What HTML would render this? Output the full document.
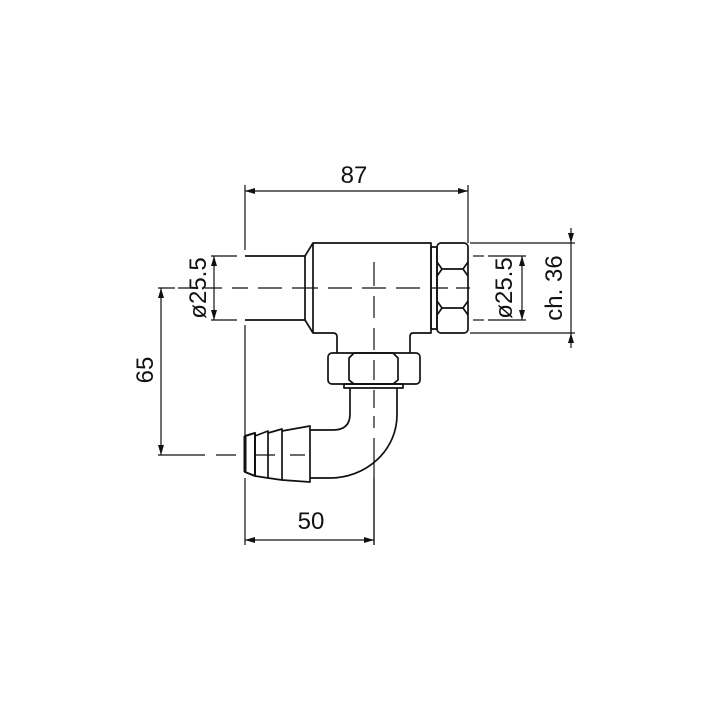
<!DOCTYPE html>
<html><head><meta charset="utf-8"><style>html,body{margin:0;padding:0;background:#fff}svg{display:block}</style></head>
<body>
<svg width="704" height="704" viewBox="0 0 704 704" xmlns="http://www.w3.org/2000/svg" font-family="Liberation Sans, sans-serif" fill="none" stroke="#111">
<defs>
<marker id="a" viewBox="0 0 10 6" refX="10" refY="3" markerWidth="10" markerHeight="6" markerUnits="userSpaceOnUse" orient="auto-start-reverse"><path d="M0,0 L10,3 L0,6 z" fill="#111" stroke="none"/></marker>
</defs>
<g stroke-width="1.2">
<line x1="245" y1="191" x2="468" y2="191" marker-start="url(#a)" marker-end="url(#a)"/>
<line x1="245" y1="185" x2="245" y2="250"/>
<line x1="468" y1="185" x2="468" y2="243"/>
<line x1="245" y1="325" x2="245" y2="445"/>
<line x1="245" y1="478" x2="245" y2="545"/>
<line x1="245" y1="540" x2="374" y2="540" marker-start="url(#a)" marker-end="url(#a)"/>
<line x1="374" y1="478" x2="374" y2="545"/>
<line x1="214" y1="256" x2="214" y2="320" marker-start="url(#a)" marker-end="url(#a)"/>
<line x1="211" y1="256" x2="237" y2="256"/>
<line x1="211" y1="320" x2="237" y2="320"/>
<line x1="161" y1="288" x2="161" y2="455" marker-start="url(#a)" marker-end="url(#a)"/>
<line x1="158" y1="288" x2="175" y2="288"/>
<line x1="158" y1="455" x2="205" y2="455"/>
<line x1="216" y1="455" x2="236" y2="455"/>
<line x1="522" y1="256" x2="522" y2="320" marker-start="url(#a)" marker-end="url(#a)"/>
<line x1="473" y1="256" x2="484" y2="256"/><line x1="488" y1="256" x2="526" y2="256"/>
<line x1="473" y1="320" x2="484" y2="320"/><line x1="488" y1="320" x2="526" y2="320"/>
<line x1="571" y1="228" x2="571" y2="243" marker-end="url(#a)"/>
<line x1="571" y1="243" x2="571" y2="333"/>
<line x1="571" y1="348" x2="571" y2="333" marker-end="url(#a)"/>
<line x1="470" y1="243" x2="575" y2="243"/>
<line x1="470" y1="333" x2="575" y2="333"/>
<path d="M178 288H194 M205 288H222 M232 288H248 M258 288H282 M292 288H318 M328 288H352 M362 288H386 M396 288H420 M430 288H448 M456 288H470"/>
<path d="M374 262V286 M374 296V318 M374 328V350 M374 360V380 M374 390V408 M374 416V428 M374 438V545"/>
<path d="M255 455H275 M290 455H305"/>
</g>
<g stroke-width="1.7" stroke-linejoin="round">
<path d="M245 256H305V320H245"/>
<path d="M305 256L313 243H431V333H413Q410 333 410 337V353 M337 353V337Q337 333 333 333H313L305 320"/>
<line x1="313" y1="243" x2="313" y2="333"/>
<rect x="431" y="247" width="6" height="82"/>
<rect x="437" y="243" width="31" height="90" rx="4"/>
<path d="M437 262L442 269H463L468 262 M437 276L442 269 M468 276L463 269 M437 315L442 308H463L468 315 M437 301L442 308 M468 301L463 308"/>
<rect x="328" y="353" width="92" height="31" rx="4"/>
<path d="M354 353L349 358V380L354 384 M393 353L398 358V380L393 384 M354 353H393 M354 384H393"/>
<rect x="344" y="384" width="59" height="4"/>
<path d="M350 388V414Q350 430 333 430H310"/>
<path d="M397 388V415A67 63 0 0 1 330 478H310"/>
<path d="M245 436L255 433V476L245 472Z" stroke-width="2"/>
<path d="M255 436L268 431V478L255 476"/>
<path d="M268 433L282 429V480L268 478"/>
<path d="M282 431L310 426V482L282 480"/>
<line x1="245" y1="436" x2="245" y2="472" stroke-width="3"/>
</g>
<g fill="#111" stroke="none" font-size="24">
<text x="354" y="183" text-anchor="middle">87</text>
<text x="311" y="529" text-anchor="middle">50</text>
<text transform="translate(206,288) rotate(-90)" text-anchor="middle">ø25.5</text>
<text transform="translate(153,370) rotate(-90)" text-anchor="middle">65</text>
<text transform="translate(512,288) rotate(-90)" text-anchor="middle">ø25.5</text>
<text transform="translate(562,288) rotate(-90)" text-anchor="middle">ch. 36</text>
</g>
</svg>
</body></html>
